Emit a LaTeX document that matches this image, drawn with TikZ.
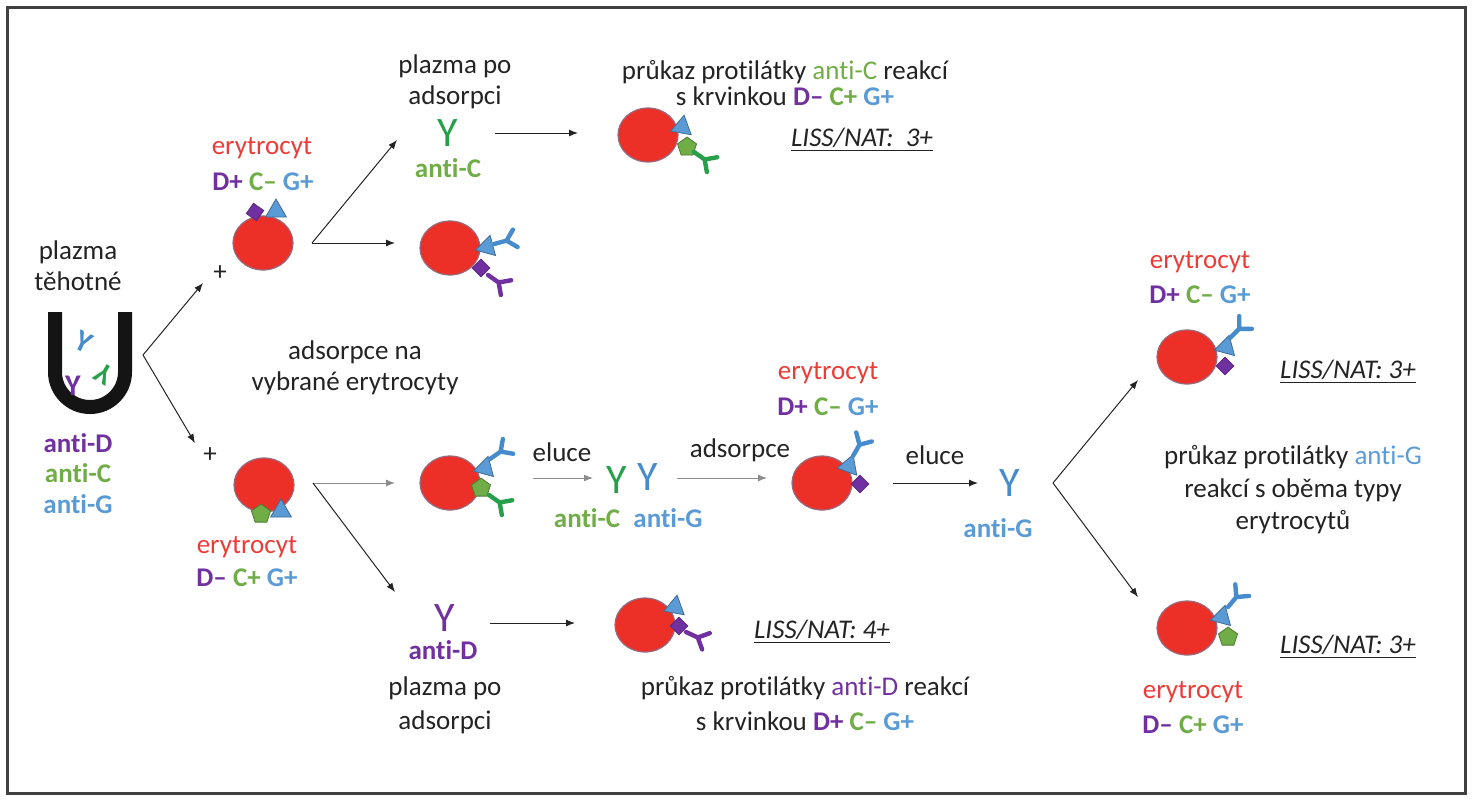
\documentclass[tikz,border=0pt]{standalone}
\usepackage{fontspec}
\setmainfont{Carlito}[Ligatures=NoCommon]
\usetikzlibrary{arrows.meta,shapes.geometric}
\definecolor{cellred}{RGB}{236,48,40}
\definecolor{cellrim}{RGB}{150,105,125}
\definecolor{redtxt}{RGB}{236,60,55}
\definecolor{pur}{RGB}{112,48,160}
\definecolor{grn}{RGB}{112,173,71}
\definecolor{grnab}{RGB}{40,160,75}
\definecolor{blu}{RGB}{91,155,213}
\definecolor{bluab}{RGB}{70,140,205}
\definecolor{txt}{RGB}{35,35,35}
\newcommand\rhtype[3]{\textbf{\textcolor{pur}{#1} \textcolor{grn}{#2} \textcolor{blu}{#3}}}
\newcommand\liss[1]{\underline{\textit{LISS/NAT:#1}}}

\begin{document}
\begin{tikzpicture}[x=0.5pt, y=0.5pt,
    every node/.style={font=\fontsize{13.5}{15.5}\selectfont, text=txt, inner sep=0pt, align=center},
    cell/.style={ellipse, fill=cellred, draw=cellrim, line width=0.6pt, minimum width=30pt, minimum height=27pt},
    agD/.style={diamond, fill=pur, draw=pur!80!black, line width=0.4pt, minimum width=9pt, minimum height=9pt},
    agC/.style={regular polygon, regular polygon sides=5, fill=grn, draw=grn!70!black, line width=0.4pt, minimum size=10pt},
    agG/.style={regular polygon, regular polygon sides=3, fill=blu, draw=blu!70!black, line width=0.4pt, minimum size=12pt},
    redlbl/.style={text=redtxt},
    abtxt/.style={font=\fontsize{13.5}{15.5}\selectfont\bfseries},
    bigY/.style={font=\fontsize{21}{21}\selectfont},
    tubeY/.style={font=\fontsize{15}{15}\selectfont\bfseries},
    arr/.style={-{Latex[length=4.5pt,width=3.5pt]}, line width=0.5pt, draw=txt},
    garr/.style={arr, draw=black!45},
    antibody/.pic={\draw[line width=2.2pt, line cap=round] (0,0) -- (0,13) -- (-9,22) (0,13) -- (9,22);}]
\useasboundingbox (0,0) rectangle (1473,-800);
\draw[line width=1.5pt, draw=black!75] (7,-7) rectangle (1465,-793);

% plazma tehotne
\node (plasma) at (78,-266) {plazma\\těhotné};
\draw[line width=7pt, draw=black!92] (55,-312) -- (55,-372) arc[start angle=180, end angle=360, radius=35] -- (125,-312);
\node[tubeY, text=bluab, rotate=-25] (tyG) at (84,-342) {Y};
\node[tubeY, text=grnab, rotate=150] (tyC) at (104,-374) {Y};
\node[tubeY, text=pur] (tyD) at (73,-386) {Y};
\node[abtxt, text=pur] (antiD0) at (78,-443) {anti-D};
\node[abtxt, text=grn] (antiC0) at (78,-473) {anti-C};
\node[abtxt, text=blu] (antiG0) at (78,-504) {anti-G};

\coordinate (s0) at (143,-355);
\coordinate (s0a) at (203,-283);
\coordinate (s0b) at (195,-443);
\draw[arr] (s0) -- (s0a);
\draw[arr] (s0) -- (s0b);
\node (plusA) at (220,-273) {+};
\node (plusB) at (210,-455) {+};

% erytrocyt D+ C- G+
\node[redlbl] (ery1) at (262,-148) {erytrocyt};
\node (typ1) at (263,-182) {\rhtype{D+}{C–}{G+}};
\node[cell] (cell1) at (263,-243) {};
\node[agD, rotate=10] at (255,-212) {};
\node[agG] at (276,-211) {};

\coordinate (s1) at (312,-243);
\coordinate (s1a) at (397,-140);
\coordinate (s1b) at (395,-243);
\draw[arr] (s1) -- (s1a);
\draw[arr] (s1) -- (s1b);

% plazma po adsorpci (anti-C)
\node (pla1) at (455,-82) {plazma po\\adsorpci};
\node[bigY, text=grnab] (yC1) at (448,-133) {Y};
\node[abtxt, text=grn] (antiC1) at (448,-168) {anti-C};
\coordinate (a1s) at (495,-133);
\coordinate (a1e) at (578,-133);
\draw[arr] (a1s) -- (a1e);

\node[font=\fontsize{13.5}{13}\selectfont] (txtC) at (785,-83) {průkaz protilátky \textcolor{grn}{anti-C} reakcí\\s krvinkou \rhtype{D–}{C+}{G+}};
\node[cell] (cellC1) at (648,-135) {};
\node[agG, rotate=-10] at (682,-127) {};
\node[agC] at (687,-147) {};
\pic[grnab, rotate=-125] at (694,-152) {antibody};
\node (liss1) at (862,-140) {\liss{\ \ 3+}};

% adsorbed cell
\node[cell] (cell2) at (450,-248) {};
\node[agG, rotate=-15] at (487,-247) {};
\node[agD] at (481,-268) {};
\pic[bluab, rotate=-75] at (494,-244) {antibody};
\pic[pur, rotate=-125] at (488,-275) {antibody};

\node (adsTxt) at (355,-368) {adsorpce na\\vybrané erytrocyty};

% erytrocyt D- C+ G+
\node[cell] (cell3) at (264,-485) {};
\node[agC] at (261,-514) {};
\node[agG] at (281,-511) {};
\node[redlbl] (ery3) at (247,-547) {erytrocyt};
\node (typ3) at (247,-578) {\rhtype{D–}{C+}{G+}};

\coordinate (s2) at (313,-483);
\coordinate (s2a) at (395,-483);
\coordinate (s2b) at (395,-592);
\draw[garr] (s2) -- (s2a);
\draw[arr] (s2) -- (s2b);

\node[cell] (cell4) at (450,-483) {};
\node[agG, rotate=-15] at (485,-468) {};
\node[agC] at (481,-488) {};
\pic[bluab, rotate=-55] at (490,-459) {antibody};
\pic[grnab, rotate=-125] at (489,-495) {antibody};

% eluce
\node (elu1) at (562,-452) {eluce};
\coordinate (a2s) at (533,-478);
\coordinate (a2e) at (593,-478);
\draw[garr] (a2s) -- (a2e);
\node[bigY, text=grnab] (yC2) at (617,-480) {Y};
\node[bigY, text=bluab] (yG2) at (648,-477) {Y};
\node[abtxt, text=grn] (antiC2) at (587,-518) {anti-C};
\node[abtxt, text=blu] (antiG2) at (668,-518) {anti-G};

\node (ads2) at (740,-450) {adsorpce};
\coordinate (a3s) at (677,-478);
\coordinate (a3e) at (767,-478);
\draw[garr] (a3s) -- (a3e);

\node[redlbl] (ery5) at (828,-373) {erytrocyt};
\node (typ5) at (828,-407) {\rhtype{D+}{C–}{G+}};
\node[cell] (cell5) at (822,-483) {};
\node[agG, rotate=-20] at (849,-466) {};
\node[agD] at (860,-484) {};
\pic[bluab, rotate=-30] at (853,-456) {antibody};

\node (elu2) at (935,-455) {eluce};
\coordinate (a4s) at (893,-483);
\coordinate (a4e) at (978,-483);
\draw[arr] (a4s) -- (a4e);
\node[bigY, text=bluab] (yG3) at (1010,-483) {Y};
\node[abtxt, text=blu] (antiG3) at (998,-528) {anti-G};

\coordinate (s3) at (1053,-483);
\coordinate (s3a) at (1138,-380);
\coordinate (s3b) at (1138,-597);
\draw[arr] (s3) -- (s3a);
\draw[arr] (s3) -- (s3b);

% anti-G s obema typy
\node[redlbl] (ery6) at (1200,-262) {erytrocyt};
\node (typ6) at (1200,-295) {\rhtype{D+}{C–}{G+}};
\node[cell] (cell6) at (1187,-357) {};
\node[agG, rotate=-15] at (1226,-347) {};
\node[agD] at (1225,-366) {};
\pic[bluab, rotate=-45] at (1230,-338) {antibody};
\node (liss6) at (1348,-372) {\liss{ 3+}};

\node[font=\fontsize{13.5}{16.25}\selectfont] (txtG) at (1293,-490) {průkaz protilátky \textcolor{blu}{anti-G}\\reakcí s oběma typy\\erytrocytů};

\node[cell] (cell7) at (1187,-628) {};
\node[agG, rotate=-15] at (1222,-617) {};
\node[agC] at (1228,-637) {};
\pic[bluab, rotate=-40] at (1228,-607) {antibody};
\node (liss7) at (1348,-647) {\liss{ 3+}};
\node[redlbl] (ery7) at (1193,-692) {erytrocyt};
\node (typ7) at (1193,-725) {\rhtype{D–}{C+}{G+}};

% plazma po adsorpci (anti-D)
\node[bigY, text=pur] (yD4) at (445,-618) {Y};
\node[abtxt, text=pur] (antiD4) at (443,-650) {anti-D};
\node[font=\fontsize{13.5}{17}\selectfont] (pla4) at (445,-705) {plazma po\\adsorpci};
\coordinate (a5s) at (490,-623);
\coordinate (a5e) at (575,-623);
\draw[arr] (a5s) -- (a5e);

\node[cell] (cell8) at (645,-625) {};
\node[agG, rotate=-10] at (675,-607) {};
\node[agD] at (679,-626) {};
\pic[pur, rotate=-115] at (686,-632) {antibody};
\node (liss8) at (822,-632) {\liss{ 4+}};
\node[font=\fontsize{13.5}{17.5}\selectfont] (txtD) at (805,-704) {průkaz protilátky \textcolor{pur}{anti-D} reakcí\\s krvinkou \rhtype{D+}{C–}{G+}};
\end{tikzpicture}
\end{document}
